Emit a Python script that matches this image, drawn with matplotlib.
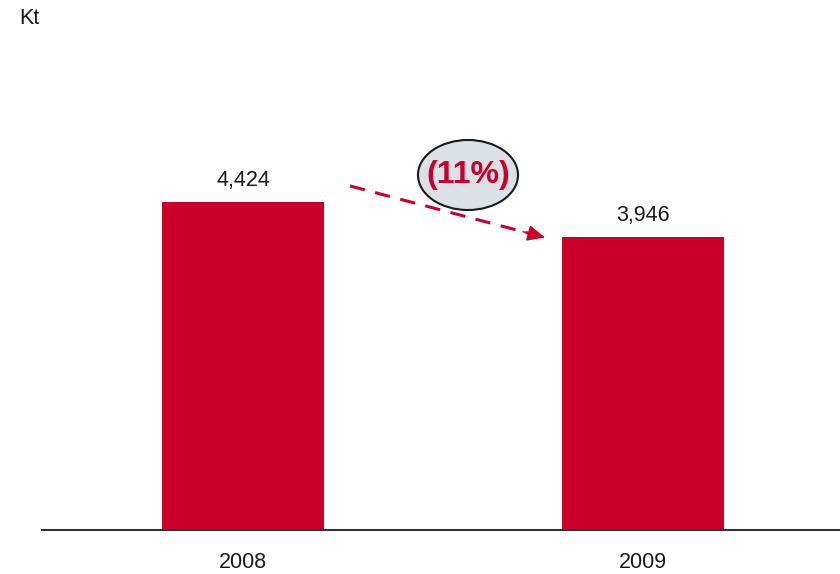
import matplotlib.pyplot as plt
from matplotlib.patches import Ellipse

plt.rcParams['font.family'] = ['Liberation Sans', 'DejaVu Sans']

years = ['2008', '2009']
volumes = [4424, 3946]
value_labels = ['4,424', '3,946']
change_label = '(11%)'

bar_color = '#C8002A'

fig = plt.figure(figsize=(8.4, 5.74), dpi=100)
ax = fig.add_axes([42 / 840, 44 / 574, 798 / 840, 530 / 574])

xs = range(len(years))
ax.bar(xs, volumes, width=0.405, color=bar_color)
ax.set_xlim(-0.5025, 1.4925)
ax.set_ylim(0, 7148)

for x, v, lab in zip(xs, volumes, value_labels):
    ax.text(x, v + 290, lab, ha='center', va='center', fontsize=15.5, color='#1a1a1a')
    ax.text(x, -440, years[x], ha='center', va='center', fontsize=15.5,
            color='#1a1a1a', clip_on=False)

for side in ['top', 'right', 'left']:
    ax.spines[side].set_visible(False)
ax.spines['bottom'].set_color('#333333')
ax.spines['bottom'].set_linewidth(1.5)
ax.set_xticks([])
ax.set_yticks([])

# dashed trend line between the bars, with a solid head at the end
start = (0.2675, 4640)
end = (0.755, 3945)
ax.plot([start[0], 0.72], [start[1], start[1] + (end[1] - start[1]) * (0.72 - start[0]) / (end[0] - start[0])],
        color=bar_color, lw=2.2, linestyle=(0, (5, 3.5)), solid_capstyle='butt')
ax.annotate('', xy=end, xytext=(0.70, start[1] + (end[1] - start[1]) * (0.70 - start[0]) / (end[0] - start[0])),
            arrowprops=dict(arrowstyle='-|>,head_length=1.1,head_width=0.5',
                            color=bar_color, lw=1, shrinkA=0, shrinkB=0))

ell = Ellipse((468, 574 - 175), 100, 70, transform=None,
              facecolor='#DCE1E8', edgecolor='#1a1a1a', lw=1.5, zorder=3)
fig.patches.append(ell)
fig.text(468 / 840, 1 - 175 / 574, change_label, ha='center', va='center',
         fontsize=23, fontweight='bold', color=bar_color, zorder=4)

fig.text(29 / 840, 1 - 18 / 574, 'Kt', ha='center', va='center', fontsize=15.5,
         color='#1a1a1a')

fig.savefig('out.png', dpi=100)
